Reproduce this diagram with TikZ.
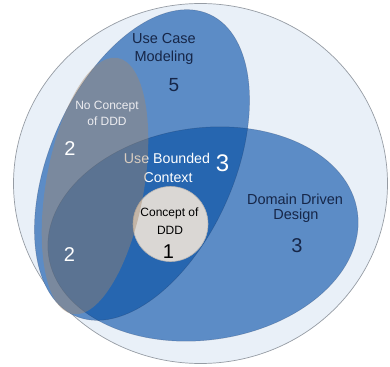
\documentclass[tikz,border=0pt]{standalone}
\usepackage{fontspec}
\setmainfont{Liberation Sans}
\definecolor{outerfill}{RGB}{233,240,248}
\definecolor{outerline}{RGB}{150,156,164}
\definecolor{setblue}{RGB}{92,140,198}
\definecolor{deepblue}{RGB}{38,102,176}
\definecolor{veil}{RGB}{165,135,105}
\definecolor{corefill}{RGB}{218,215,212}
\definecolor{coreline}{RGB}{185,182,180}
\definecolor{navy}{RGB}{22,38,72}
\definecolor{paleink}{RGB}{236,236,240}
\tikzset{
  ucmshape/.style={rotate around={66:(142,165)}},
  dddshape/.style={rotate around={8:(203,234)}},
  noshape/.style={rotate around={80:(95,186)}},
  lbl/.style={font=\fontsize{14.5}{17}\selectfont, inner sep=0pt, anchor=base},
  smalllbl/.style={font=\fontsize{12}{14}\selectfont, inner sep=0pt, anchor=base},
  numlbl/.style={font=\fontsize{20}{22}\selectfont, inner sep=0pt, anchor=base},
}
\begin{document}
\begin{tikzpicture}[x=1pt,y=-1pt]
\useasboundingbox (0,0) rectangle (390,366);

% outer universe
\filldraw[fill=outerfill, draw=outerline, line width=0.7pt]
  (200.5,183.5) ellipse [x radius=187pt, y radius=180pt];

% Use Case Modeling
\fill[setblue, ucmshape] (142,165) ellipse [x radius=165pt, y radius=92pt];
% Domain Driven Design
\fill[setblue, dddshape] (203,234) ellipse [x radius=156pt, y radius=106pt];
% overlap of the two
\begin{scope}
  \clip[ucmshape] (142,165) ellipse [x radius=165pt, y radius=92pt];
  \fill[deepblue, dddshape] (203,234) ellipse [x radius=156pt, y radius=106pt];
\end{scope}
\draw[navy, opacity=0.25, line width=0.5pt, ucmshape] (142,165) ellipse [x radius=165pt, y radius=92pt];
\draw[navy, opacity=0.25, line width=0.5pt, dddshape] (203,234) ellipse [x radius=156pt, y radius=106pt];

% Concept of DDD
\filldraw[fill=corefill, draw=coreline, line width=0.6pt] (170.5,224) circle [radius=37.5pt];

% Use Bounded Context (partly under the grey set)
\node[lbl, text=white, font=\fontsize{14.2}{16}\selectfont] (bcA) at (167,163.5) {Use Bounded};
\node[lbl, text=white, font=\fontsize{24}{26}\selectfont] (bcN) at (222.5,171) {3};
\node[lbl, text=white, font=\fontsize{14.2}{16}\selectfont] (bcB) at (168,182) {Context};

% No Concept of DDD
\fill[veil, fill opacity=0.42, noshape] (95,186) ellipse [x radius=130pt, y radius=49pt];

\node[lbl, text=navy] (ucmA) at (164,44) {Use Case};
\node[lbl, text=navy] (ucmB) at (164,61.7) {Modeling};
\node[numlbl, text=navy, font=\fontsize{19}{21}\selectfont] (ucmN) at (174,91.7) {5};

\node[smalllbl, text=paleink] (noA) at (107,109.3) {No Concept};
\node[smalllbl, text=paleink] (noB) at (107,126) {of DDD};
\node[numlbl, text=white] (noN1) at (70,155) {2};
\node[numlbl, text=white] (noN2) at (69.5,261) {2};

\node[smalllbl, text=black] (cdA) at (169.5,216.5) {Concept of};
\node[smalllbl, text=black] (cdB) at (170,234) {DDD};
\node[numlbl, text=black] (cdN) at (168.5,258) {1};

\node[lbl, text=navy] (dddA) at (295,204) {Domain Driven};
\node[lbl, text=navy] (dddB) at (296,219) {Design};
\node[numlbl, text=navy] (dddN) at (297,252) {3};
\end{tikzpicture}
\end{document}
